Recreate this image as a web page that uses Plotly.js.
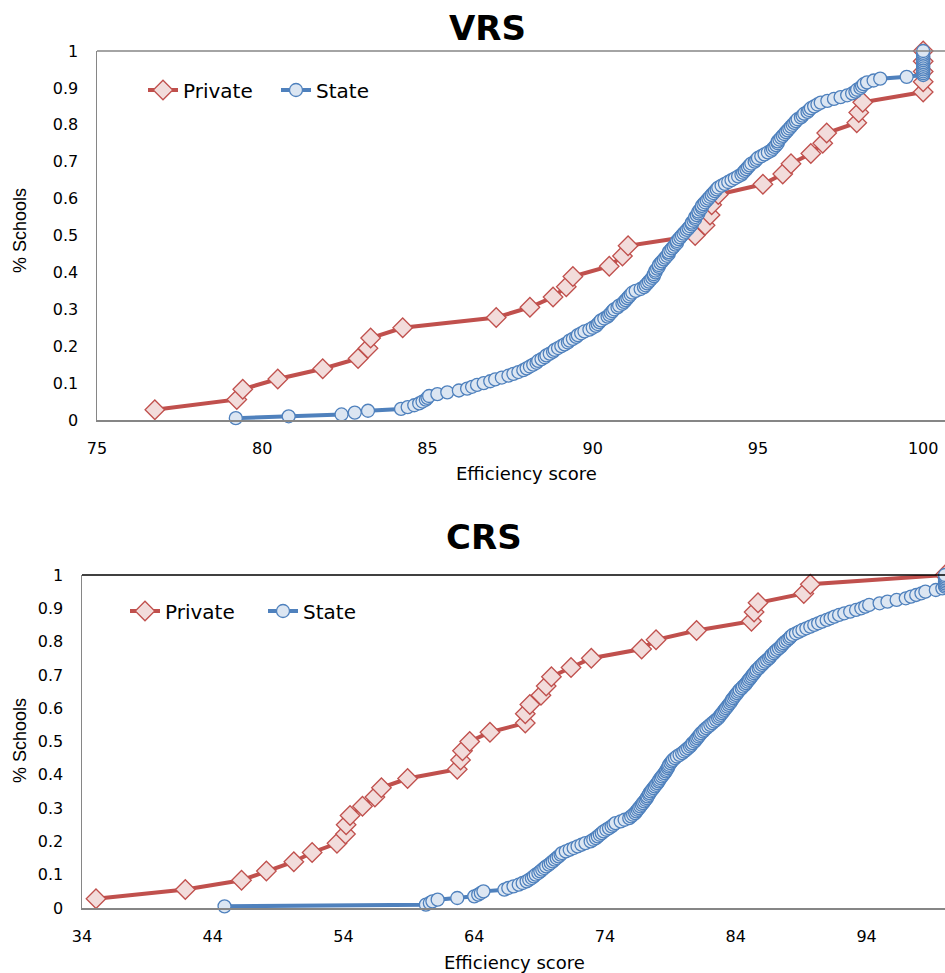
<!DOCTYPE html>
<html>
<head>
<meta charset="utf-8">
<script src="https://cdn.plot.ly/plotly-3.0.1.min.js"></script>
<style>html,body{margin:0;padding:0;background:#fff;}#chart{width:945px;height:973px;}</style>
</head>
<body>
<div id="chart"></div>
<script>
// ---- Data: efficiency scores (sorted) ----
const vrsPrivate = [76.75, 79.23, 79.41, 80.47, 81.83, 82.9, 83.2, 83.28, 84.25, 87.08, 88.1, 88.8,
  89.2, 89.4, 90.5, 90.9, 91.07, 93.1, 93.4, 93.55, 93.6, 93.8, 95.15, 95.75, 96.0, 96.6, 96.96,
  97.08, 97.99, 98.05, 98.17, 100, 100, 100, 100, 100];

const vrsState = [79.2, 80.8, 82.4, 82.8, 83.2, 84.2, 84.4, 84.6, 84.75, 84.85, 84.95, 85.0, 85.05,
  85.3, 85.6, 85.95, 86.2, 86.35, 86.5, 86.7, 86.9, 87.05, 87.25, 87.45, 87.6, 87.75, 87.9, 88.0,
  88.1, 88.2, 88.3, 88.35, 88.45, 88.55, 88.6, 88.7, 88.8, 88.85, 88.95, 89.05, 89.15, 89.25, 89.3,
  89.4, 89.5, 89.55, 89.65, 89.75, 89.9, 90.0, 90.1, 90.15, 90.2, 90.25, 90.35, 90.45, 90.5, 90.55,
  90.6, 90.65, 90.75, 90.8, 90.9, 90.95, 91.0, 91.05, 91.1, 91.15, 91.2, 91.3, 91.45, 91.55, 91.6,
  91.65, 91.7, 91.75, 91.8, 91.85, 91.85, 91.9, 91.9, 91.95, 92.0, 92.0, 92.05, 92.1, 92.15, 92.2,
  92.25, 92.3, 92.3, 92.35, 92.4, 92.45, 92.5, 92.55, 92.55, 92.6, 92.65, 92.7, 92.75, 92.8, 92.85,
  92.9, 92.95, 93.0, 93.0, 93.05, 93.1, 93.1, 93.15, 93.2, 93.2, 93.25, 93.3, 93.3, 93.35, 93.4,
  93.45, 93.5, 93.55, 93.6, 93.65, 93.7, 93.75, 93.8, 93.9, 94.0, 94.1, 94.2, 94.3, 94.4, 94.5,
  94.55, 94.6, 94.65, 94.7, 94.75, 94.8, 94.9, 94.95, 95.0, 95.1, 95.2, 95.3, 95.4, 95.45, 95.5,
  95.55, 95.6, 95.6, 95.65, 95.7, 95.75, 95.8, 95.85, 95.9, 95.95, 96.0, 96.05, 96.1, 96.15, 96.2,
  96.3, 96.35, 96.4, 96.5, 96.55, 96.6, 96.7, 96.8, 96.9, 97.1, 97.3, 97.5, 97.7, 97.85, 97.95,
  98.0, 98.1, 98.15, 98.2, 98.3, 98.5, 98.7, 99.5, 100, 100, 100, 100, 100, 100, 100, 100, 100,
  100, 100, 100, 100, 100];

const crsPrivate = [35.07, 41.9, 46.2, 48.1, 50.2, 51.6, 53.5, 54.15, 54.2, 54.5, 55.45, 56.4, 56.9,
  58.9, 62.7, 62.95, 63.1, 63.65, 65.2, 67.9, 67.9, 68.25, 69.1, 69.5, 69.9, 71.4, 72.95, 76.8,
  77.9, 81.0, 85.2, 85.4, 85.7, 89.2, 89.7, 100];

const crsState = [44.9, 60.3, 60.6, 60.8, 61.2, 62.7, 64.0, 64.3, 64.5, 64.7, 66.3, 66.6, 67.0, 67.4,
  67.7, 68.0, 68.2, 68.4, 68.55, 68.7, 68.9, 69.05, 69.2, 69.35, 69.5, 69.7, 69.85, 70.0, 70.15,
  70.3, 70.45, 70.6, 70.7, 71.0, 71.3, 71.6, 71.9, 72.2, 72.5, 72.9, 73.1, 73.3, 73.45, 73.6, 73.75,
  73.9, 74.1, 74.3, 74.5, 74.65, 74.8, 75.2, 75.5, 75.85, 76.0, 76.15, 76.3, 76.4, 76.5, 76.6, 76.7,
  76.8, 76.9, 77.0, 77.1, 77.2, 77.25, 77.35, 77.4, 77.5, 77.6, 77.7, 77.8, 77.9, 78.0, 78.1, 78.15,
  78.25, 78.35, 78.45, 78.55, 78.65, 78.7, 78.8, 78.85, 78.9, 79.0, 79.1, 79.2, 79.35, 79.5, 79.7,
  79.9, 80.05, 80.2, 80.35, 80.5, 80.6, 80.7, 80.85, 80.95, 81.05, 81.15, 81.25, 81.35, 81.5, 81.6,
  81.75, 81.9, 82.05, 82.2, 82.35, 82.5, 82.65, 82.75, 82.85, 82.95, 83.05, 83.15, 83.25, 83.35,
  83.45, 83.55, 83.65, 83.7, 83.8, 83.9, 84.0, 84.1, 84.2, 84.3, 84.45, 84.55, 84.7, 84.8, 84.9,
  85.0, 85.1, 85.2, 85.3, 85.4, 85.5, 85.6, 85.75, 85.85, 86.0, 86.1, 86.25, 86.4, 86.55, 86.65,
  86.75, 86.9, 87.0, 87.15, 87.3, 87.45, 87.55, 87.65, 87.8, 87.95, 88.1, 88.2, 88.35, 88.6, 88.85,
  89.1, 89.4, 89.7, 90.0, 90.3, 90.6, 90.95, 91.25, 91.55, 91.9, 92.3, 92.75, 93.2, 93.6, 93.9,
  94.2, 95.0, 95.6, 96.3, 97.0, 97.4, 97.8, 98.2, 98.5, 99.3, 99.8, 100, 100, 100, 100, 100, 100,
  100, 100];

const seriesNames = ['Private', 'State'];
const panelTitles = ['VRS', 'CRS'];
const yTickVals = [0, 0.1, 0.2, 0.3, 0.4, 0.5, 0.6, 0.7, 0.8, 0.9, 1];
const yTickText = ['0', '0.1', '0.2', '0.3', '0.4', '0.5', '0.6', '0.7', '0.8', '0.9', '1'];
const vrsXTicks = [75, 80, 85, 90, 95, 100];
const crsXTicks = [34, 44, 54, 64, 74, 84, 94];

// cumulative share of schools (empirical distribution of the scores)
function cumShare(scores) { return scores.map((_, i) => (i + 1) / scores.length); }

const RED = '#C0504D', RED_FILL = '#F2DCDB', BLUE = '#4F81BD', BLUE_FILL = '#DCE6F2';
const FONT = 'DejaVu Sans, Liberation Sans, Arial, sans-serif';
const FONT_V = 'Liberation Sans, Arial, sans-serif';

function privTrace(x, xa, ya, lg) {
  return { x: x, y: cumShare(x), xaxis: xa, yaxis: ya, legend: lg, name: seriesNames[0],
    type: 'scatter', mode: 'lines+markers', cliponaxis: false,
    line: { color: RED, width: 4 },
    marker: { symbol: 'diamond', size: 15, color: RED_FILL, line: { color: RED, width: 1.3 } } };
}
function stateTrace(x, xa, ya, lg) {
  return { x: x, y: cumShare(x), xaxis: xa, yaxis: ya, legend: lg, name: seriesNames[1],
    type: 'scatter', mode: 'lines+markers', cliponaxis: false,
    line: { color: BLUE, width: 4 },
    marker: { symbol: 'circle', size: 13, color: BLUE_FILL, line: { color: BLUE, width: 1.3 } } };
}

const data = [
  privTrace(vrsPrivate, 'x', 'y', 'legend'),
  stateTrace(vrsState, 'x', 'y', 'legend'),
  privTrace(crsPrivate, 'x2', 'y2', 'legend2'),
  stateTrace(crsState, 'x2', 'y2', 'legend2')
];

const H = 973, W = 945;
const py = px => (H - px) / H;
const tickFont = { family: FONT, size: 16, color: '#000' };

function yAxis(dom, anchor) {
  return { domain: dom, anchor: anchor, range: [0, 1], tickvals: yTickVals, ticktext: yTickText,
    showgrid: false, zeroline: false, showline: true, linecolor: '#868686', linewidth: 1.5,
    ticks: 'outside', ticklen: 14, tickcolor: 'rgba(0,0,0,0)', tickfont: tickFont, fixedrange: true };
}
function xAxis(dom, anchor, range, ticks) {
  return { domain: dom, anchor: anchor, range: range, tickvals: ticks, ticktext: ticks.map(String),
    showgrid: false, zeroline: false, showline: true, linecolor: '#868686', linewidth: 1.5,
    ticks: 'outside', ticklen: 13, tickcolor: 'rgba(0,0,0,0)', tickfont: tickFont, fixedrange: true };
}

const legFont = { family: FONT, size: 20, color: '#000' };

const layout = {
  width: W, height: H, margin: { l: 0, r: 0, t: 0, b: 0 },
  paper_bgcolor: '#fff', plot_bgcolor: '#fff', font: { family: FONT, color: '#000' },
  xaxis: xAxis([97 / W, 1], 'y', [75, 100.66], vrsXTicks),
  yaxis: yAxis([py(420), py(51)], 'x'),
  xaxis2: xAxis([82 / W, 1], 'y2', [34, 100], crsXTicks),
  yaxis2: yAxis([py(908), py(575)], 'x2'),
  showlegend: true,
  legend: { x: 143 / W, y: py(90), xanchor: 'left', yanchor: 'middle', orientation: 'h',
    font: legFont, bgcolor: 'rgba(0,0,0,0)', entrywidth: 88, itemwidth: 30, tracegroupgap: 0 },
  legend2: { x: 125 / W, y: py(611), xanchor: 'left', yanchor: 'middle', orientation: 'h',
    font: legFont, bgcolor: 'rgba(0,0,0,0)', entrywidth: 93, itemwidth: 30, tracegroupgap: 0 },
  shapes: [
    { type: 'line', xref: 'x domain', yref: 'y domain', x0: 0, x1: 1, y0: 1, y1: 1,
      line: { color: '#868686', width: 1.5 } },
    { type: 'line', xref: 'x2 domain', yref: 'y2 domain', x0: 0, x1: 1, y0: 1, y1: 1,
      line: { color: '#000', width: 1.5 } }
  ],
  annotations: [
    { text: '<b>' + panelTitles[0] + '</b>', xref: 'paper', yref: 'paper', x: 487 / W, y: py(28),
      showarrow: false, xanchor: 'center', yanchor: 'middle', font: { family: FONT, size: 34, color: '#000' } },
    { text: '<b>' + panelTitles[1] + '</b>', xref: 'paper', yref: 'paper', x: 484 / W, y: py(537),
      showarrow: false, xanchor: 'center', yanchor: 'middle', font: { family: FONT, size: 34, color: '#000' } },
    { text: 'Efficiency score', xref: 'paper', yref: 'paper', x: 526 / W, y: py(474),
      showarrow: false, xanchor: 'center', yanchor: 'middle', font: { family: FONT, size: 18, color: '#000' } },
    { text: 'Efficiency score', xref: 'paper', yref: 'paper', x: 514 / W, y: py(962),
      showarrow: false, xanchor: 'center', yanchor: 'middle', font: { family: FONT, size: 18, color: '#000' } },
    { text: '% Schools', xref: 'paper', yref: 'paper', x: 20 / W, y: py(231), textangle: -90,
      showarrow: false, xanchor: 'center', yanchor: 'middle', font: { family: FONT_V, size: 18, color: '#000' } },
    { text: '% Schools', xref: 'paper', yref: 'paper', x: 20 / W, y: py(741), textangle: -90,
      showarrow: false, xanchor: 'center', yanchor: 'middle', font: { family: FONT_V, size: 18, color: '#000' } }
  ]
};

Plotly.newPlot('chart', data, layout, { displayModeBar: false, staticPlot: true });
</script>
</body>
</html>
